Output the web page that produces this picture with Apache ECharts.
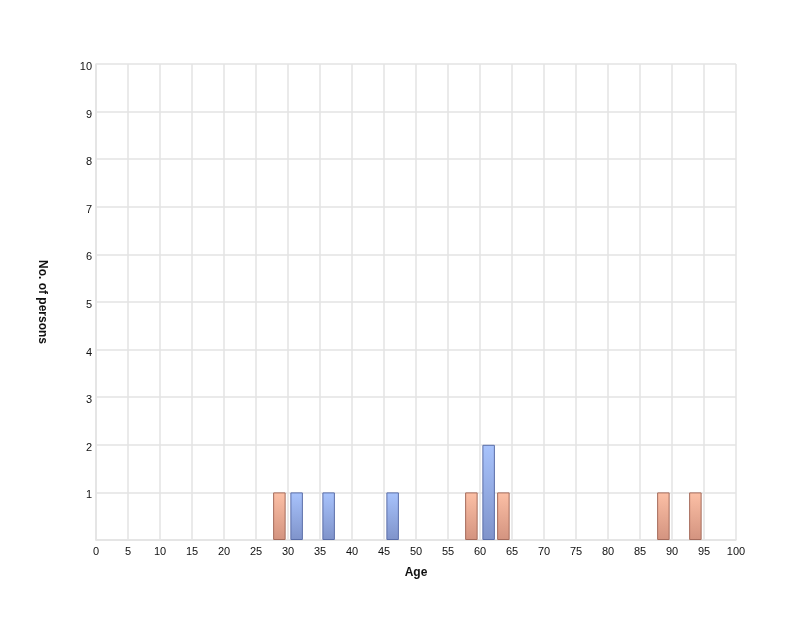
<!DOCTYPE html>
<html>
<head>
<meta charset="utf-8">
<script src="https://cdn.jsdelivr.net/npm/echarts@6/dist/echarts.min.js"></script>
<style>
  html, body { margin: 0; padding: 0; background: #fff; }
  #chart { width: 800px; height: 628px; }
</style>
</head>
<body>
<div id="chart"></div>
<script>
// age bins (centre of each 5-year bin) and counts
const orangeAges = [30, 60, 65, 90, 95];
const orangeCounts = [1, 1, 1, 1, 1];
const blueAges = [30, 35, 45, 60];
const blueCounts = [1, 1, 1, 2];

const chart = echarts.init(document.getElementById('chart'), null, { renderer: 'canvas' });

const grad = (top, bottom) => new echarts.graphic.LinearGradient(0, 0, 0, 1, [
  { offset: 0, color: top },
  { offset: 1, color: bottom }
]);

const gridLine = { show: true, lineStyle: { color: '#e3e3e3', width: 1.5 } };

const option = {
  animation: false,
  grid: { left: 96, right: 64, top: 64, bottom: 88 },
  xAxis: {
    type: 'value',
    min: 0,
    max: 100,
    interval: 5,
    name: 'Age',
    nameLocation: 'middle',
    nameGap: 27,
    nameTextStyle: { fontWeight: 'bold', fontSize: 12, color: '#111', fontFamily: 'Helvetica, Arial, sans-serif' },
    axisLine: { show: true, lineStyle: { color: '#e3e3e3', width: 1.5 } },
    axisTick: { show: false },
    axisLabel: { color: '#111', fontSize: 11, margin: 6 },
    splitLine: gridLine
  },
  yAxis: {
    type: 'value',
    min: 0,
    max: 10,
    interval: 1,
    name: 'No. of persons',
    nameLocation: 'middle',
    nameRotate: -90,
    nameGap: 48,
    nameTextStyle: { fontWeight: 'bold', fontSize: 12, color: '#111', fontFamily: 'Helvetica, Arial, sans-serif' },
    axisLine: { show: true, lineStyle: { color: '#e3e3e3', width: 1.5 } },
    axisTick: { show: false },
    axisLabel: {
      color: '#111', fontSize: 11, margin: 4,
      verticalAlign: 'top', lineHeight: 6,
      formatter: v => (v === 0 ? '' : v)
    },
    splitLine: gridLine
  },
  series: [
    {
      type: 'bar',
      data: orangeAges.map((a, i) => [a, orangeCounts[i]]),
      barWidth: 12.5,
      barGap: '38%',
      itemStyle: { color: grad('#fcc0a6', '#d3937f'), borderColor: '#a56b5b', borderWidth: 1 }
    },
    {
      type: 'bar',
      data: blueAges.map((a, i) => [a, blueCounts[i]]),
      barWidth: 12.5,
      barGap: '38%',
      itemStyle: { color: grad('#a8c3fc', '#7f93ca'), borderColor: '#5a6ea8', borderWidth: 1 }
    }
  ]
};

chart.setOption(option);
</script>
</body>
</html>
